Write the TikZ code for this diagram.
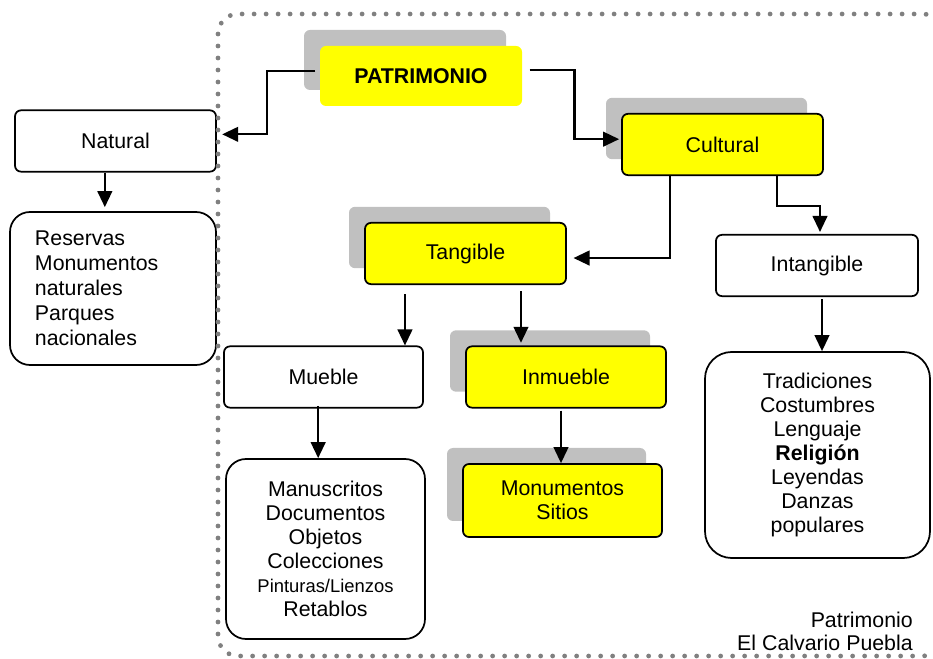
\documentclass[tikz,border=0pt]{standalone}
\usepackage{fontspec}
\setmainfont{Liberation Sans}
\usetikzlibrary{arrows.meta,shadows}
\definecolor{amarillo}{RGB}{255,255,0}
\definecolor{sombra}{RGB}{192,192,192}
\definecolor{punteado}{RGB}{128,128,128}

\begin{document}
\begin{tikzpicture}[x=0.75pt,y=-0.75pt,
  font=\fontsize{16}{18}\selectfont,
  caja/.style={draw,line width=1.3pt,rounded corners=4.5pt,minimum width=150.75pt,minimum height=46pt,inner sep=2pt,align=center},
  amarilla/.style={caja,fill=amarillo,general shadow={fill=sombra,shadow xshift=-12pt,shadow yshift=12pt}},
  grande/.style={caja,rounded corners=15pt},
  flecha/.style={-{Triangle[length=12pt,width=11pt]},line width=1.6pt},
  marco/.style={punteado,line width=3.6pt,line cap=round,dash pattern=on 0pt off 9pt,rounded corners=15pt}]

  \useasboundingbox (0,0) rectangle (933,659);

  \node[amarilla,draw=none,minimum width=151.5pt,minimum height=45pt] (patri) at (421,76) {\bfseries PATRIMONIO};
  \node[caja] (nat) at (115.5,141) {Natural};
  \node[grande,minimum width=154.5pt,minimum height=114.75pt,align=left,text width=117pt,
    font=\fontsize{16}{18.75}\selectfont] (res) at (113,288.5)
    {Reservas\\Monumentos\\naturales\\Parques\\nacionales};
  \node[amarilla] (cult) at (722.5,144.5) {Cultural};
  \node[caja,minimum width=151.5pt] (intang) at (817,265.5) {Intangible};
  \node[amarilla] (tang) at (465.5,253.5) {Tangible};
  \node[caja,minimum width=149.25pt] (mueb) at (323.5,377) {Mueble};
  \node[amarilla,minimum width=150pt] (inm) at (566,377) {Inmueble};
  \node[grande,minimum width=149.25pt,minimum height=135pt] (manus) at (325.5,549)
    {Manuscritos\\Documentos\\Objetos\\Colecciones\\{\fontsize{13.8}{12}\selectfont Pinturas/Lienzos}\\Retablos};
  \node[amarilla,minimum width=149.25pt,minimum height=54.75pt] (mon) at (562.5,500.5) {Monumentos\\Sitios};
  \node[grande,rounded corners=20pt,minimum width=168.75pt,minimum height=154.5pt] (trad) at (817.5,455)
    {Tradiciones\\Costumbres\\Lenguaje\\\textbf{Religión}\\Leyendas\\Danzas\\populares};
  \node[align=right,anchor=south east,inner sep=0pt,font=\fontsize{16}{17.25}\selectfont] (firma) at (913,651)
    {Patrimonio\\El Calvario Puebla};

  \draw[marco] (218,14) rectangle (943,656);

  \draw[flecha] ([xshift=-3pt,yshift=4pt]patri.west) -- ++(-48,0) |- ([xshift=4pt,yshift=5pt]nat.east);
  \draw[flecha] ([xshift=5pt,yshift=4.5pt]patri.east) -- ++(45,0) |- ([xshift=-1.5pt,yshift=4pt]cult.west);
  \draw[flecha] ([xshift=-39.4pt]cult.south) |- ([xshift=5pt,yshift=-3.4pt]tang.east);
  \draw[flecha] ([xshift=41pt]cult.south) -- ++(0,30) -| ([xshift=2.25pt,yshift=1.5pt]intang.north);
  \draw[flecha,shorten >=3pt] ([xshift=-8pt]nat.south) -- ([xshift=-8pt]nat.south |- res.north);
  \draw[flecha] ([xshift=-45.4pt,yshift=-7pt]tang.south) -- ([xshift=-45.4pt]tang.south |- mueb.north);
  \draw[flecha,shorten >=2pt] ([xshift=41.6pt,yshift=-4.5pt]tang.south) -- ([xshift=41.6pt]tang.south |- inm.north);
  \draw[flecha] ([xshift=-4pt,yshift=2pt]mueb.south) -- ([xshift=-4pt]mueb.south |- manus.north);
  \draw[flecha] ([xshift=-3.75pt,yshift=-1.5pt]inm.south) -- ([xshift=-3.75pt]inm.south |- mon.north);
  \draw[flecha] ([xshift=3.75pt,yshift=-1.5pt]intang.south) -- ([xshift=3.75pt]intang.south |- trad.north);
\end{tikzpicture}
\end{document}
